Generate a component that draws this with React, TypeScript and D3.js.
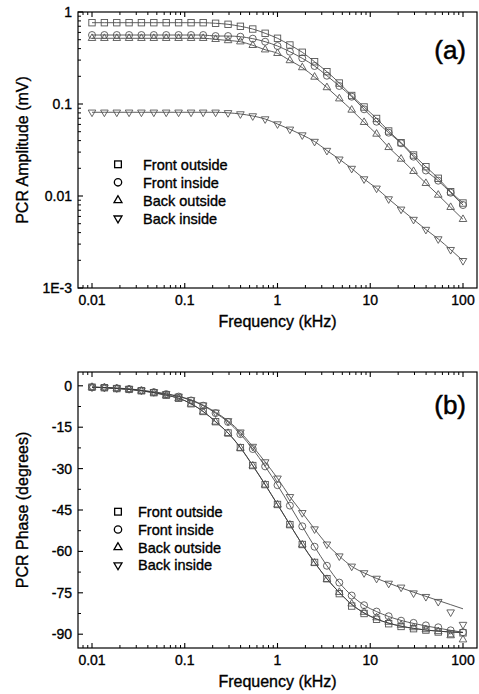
import React from "react";
import * as d3 from "d3";

// ---------- data ----------
const freq = [0.01, 0.0136, 0.0185, 0.0251, 0.0341, 0.0464, 0.0631, 0.0858, 0.117, 0.158, 0.215, 0.293, 0.398, 0.541, 0.736, 1, 1.36, 1.85, 2.51, 3.41, 4.64, 6.31, 8.58, 11.7, 15.8, 21.5, 29.3, 39.8, 54.1, 73.6, 100];

const seriesNames = ["Front outside", "Front inside", "Back outside", "Back inside"];
const seriesSymbols = ["square", "circle", "triUp", "triDown"];

const ampFrontOutside = [0.765, 0.765, 0.765, 0.765, 0.765, 0.765, 0.765, 0.765, 0.765, 0.765, 0.754, 0.735, 0.699, 0.653, 0.587, 0.518, 0.438, 0.365, 0.288, 0.2245, 0.169, 0.1237, 0.0928, 0.0696, 0.0509, 0.038, 0.0279, 0.0208, 0.01558, 0.01113, 0.00839];
const ampFrontInside = [0.562, 0.562, 0.562, 0.562, 0.562, 0.562, 0.562, 0.562, 0.562, 0.562, 0.548, 0.548, 0.539, 0.513, 0.4755, 0.427, 0.37, 0.314, 0.2588, 0.203, 0.157, 0.12, 0.0876, 0.0642, 0.0488, 0.0374, 0.02675, 0.01893, 0.01467, 0.01086, 0.00798];
const ampBackOutside = [0.518, 0.518, 0.518, 0.518, 0.518, 0.518, 0.518, 0.518, 0.518, 0.518, 0.505, 0.49, 0.4755, 0.4345, 0.389, 0.3557, 0.297, 0.249, 0.1966, 0.1511, 0.1142, 0.0861, 0.0633, 0.0472, 0.0338, 0.02525, 0.01856, 0.01374, 0.01025, 0.00754, 0.00558];
const ampBackInside = [0.0813, 0.0813, 0.0813, 0.0813, 0.0813, 0.0813, 0.0813, 0.0813, 0.0813, 0.0813, 0.0813, 0.0802, 0.0779, 0.0741, 0.0687, 0.0606, 0.0531, 0.046, 0.0391, 0.0312, 0.0251, 0.0199, 0.0153, 0.01213, 0.00928, 0.00717, 0.00555, 0.00432, 0.00341, 0.00261, 0.00198];

const phFrontOutside = [-0.5, -0.7, -1.0, -1.3, -1.8, -2.5, -3.4, -4.5, -6.5, -9.3, -13.0, -17.1, -22.4, -28.9, -35.8, -43.0, -50.3, -57.5, -64.0, -69.9, -75.3, -79.8, -82.5, -84.6, -86.2, -87.2, -88.0, -88.5, -89.2, -89.8, -89.5];
const phFrontInside = [-0.5, -0.6, -0.9, -1.2, -1.7, -2.3, -3.0, -3.9, -5.3, -7.2, -9.9, -13.1, -17.5, -22.9, -29.2, -36.0, -43.4, -50.9, -58.3, -65.2, -71.3, -76.0, -79.5, -81.8, -83.5, -85.1, -85.9, -86.8, -87.5, -88.6, -89.3];
const phBackOutside = [-0.5, -0.7, -1.0, -1.3, -1.9, -2.6, -3.5, -4.6, -6.6, -9.4, -13.1, -17.2, -22.6, -29.0, -35.9, -43.1, -50.4, -57.6, -64.2, -70.1, -74.8, -79.0, -82.0, -84.0, -85.6, -86.7, -87.6, -88.3, -89.0, -90.5, -92.0];
const phBackInside = [-0.5, -0.6, -0.8, -1.1, -1.6, -2.2, -2.9, -3.8, -5.1, -7.0, -9.6, -12.7, -16.8, -22.0, -27.6, -33.5, -40.2, -46.0, -51.9, -57.4, -61.7, -65.4, -67.8, -69.8, -71.6, -73.0, -75.1, -76.4, -78.2, -82.0, -86.5];

// fitted model curves (phase)
const fitPhOutside = [-0.5, -0.7, -1.0, -1.3, -1.8, -2.5, -3.4, -4.5, -6.5, -9.3, -13.0, -17.1, -22.4, -28.9, -35.8, -43.0, -50.3, -57.5, -64.0, -69.9, -74.9, -79.2, -82.3, -84.5, -86.0, -87.1, -87.9, -88.5, -88.9, -89.2, -89.4];
const fitPhFrontInside = [-0.5, -0.6, -0.9, -1.2, -1.7, -2.3, -3.0, -3.9, -5.3, -7.2, -9.9, -13.1, -17.5, -22.9, -29.2, -36.0, -43.4, -50.9, -58.3, -65.2, -71.3, -76.0, -79.5, -81.8, -83.6, -85.0, -86.1, -87.0, -87.8, -88.6, -89.3];
const fitPhBackInside = [-0.5, -0.6, -0.8, -1.1, -1.6, -2.2, -2.9, -3.8, -5.1, -7.0, -9.6, -12.7, -16.8, -22.0, -27.6, -33.5, -40.2, -46.0, -51.9, -57.4, -61.7, -65.4, -67.8, -69.8, -71.5, -73.2, -74.8, -76.3, -77.8, -79.3, -80.8];

const xMajorTicks = [0.01, 0.1, 1, 10, 100];
const xTickLabels = ["0.01", "0.1", "1", "10", "100"];
const ampMajorTicks = [1, 0.1, 0.01, 0.001];
const ampTickLabels = ["1", "0.1", "0.01", "1E-3"];
const phMajorTicks = [0, -15, -30, -45, -60, -75, -90];
const phTickLabels = ["0", "-15", "-30", "-45", "-60", "-75", "-90"];

// ---------- layout ----------
const W = 479;
const H = 694;
const left = 78;
const right = 477;
const FONT = "'Liberation Sans', Arial, Helvetica, sans-serif";
const TS = 0.35; // text stroke to mimic the heavier rendering

const x = d3.scaleLog().domain([Math.pow(10, -2.151), Math.pow(10, 2.151)]).range([left, right]);
const yAmp = d3.scaleLog().domain([0.001, 1]).range([288, 12]);
const yPh = d3.scaleLinear().domain([-95, 5]).range([648, 372]);

function logMinors(domain: number[]) {
  const out: number[] = [];
  const lo = Math.min(domain[0], domain[1]);
  const hi = Math.max(domain[0], domain[1]);
  for (let e = -4; e <= 3; e++) {
    for (let m = 2; m <= 9; m++) {
      const v = m * Math.pow(10, e);
      if (v > lo && v < hi) out.push(v);
    }
  }
  return out;
}

function Marker({ kind, cx, cy, stroke, sw, s = 1 }: any) {
  if (kind === "square") {
    const a = 6.4 * s;
    return <rect x={cx - a / 2} y={cy - a / 2} width={a} height={a} fill="none" stroke={stroke} strokeWidth={sw} />;
  }
  if (kind === "circle") {
    return <circle cx={cx} cy={cy} r={3.5 * s} fill="none" stroke={stroke} strokeWidth={sw} />;
  }
  const w = 7.6 * s;
  const h = 6.6 * s;
  if (kind === "triUp") {
    const p = `M${cx},${cy - (2 * h) / 3}L${cx - w / 2},${cy + h / 3}L${cx + w / 2},${cy + h / 3}Z`;
    return <path d={p} fill="none" stroke={stroke} strokeWidth={sw} />;
  }
  const p = `M${cx},${cy + (2 * h) / 3}L${cx - w / 2},${cy - h / 3}L${cx + w / 2},${cy - h / 3}Z`;
  return <path d={p} fill="none" stroke={stroke} strokeWidth={sw} />;
}

function Frame({ yScale, yMajors, yLabels, yMinors, yTitle, xTitleY, panelLabel, labelY }: any) {
  const [yb, yt] = yScale.range();
  const xMinors = logMinors(x.domain());
  const majLen = 5;
  const minLen = 3;
  return (
    <g>
      <rect x={left} y={yt} width={right - left} height={yb - yt} fill="none" stroke="#000" strokeWidth={1.2} />
      {xMajorTicks.map((t, i) => (
        <g key={"xm" + i}>
          <line x1={x(t)} x2={x(t)} y1={yb} y2={yb - majLen} stroke="#000" strokeWidth={1.1} />
          <line x1={x(t)} x2={x(t)} y1={yt} y2={yt + majLen} stroke="#000" strokeWidth={1.1} />
          <text x={x(t)} y={yb + 16.5} textAnchor="middle" fontSize={14} fontFamily={FONT} fill="#000" stroke="#000" strokeWidth={TS}>
            {xTickLabels[i]}
          </text>
        </g>
      ))}
      {xMinors.map((t, i) => (
        <g key={"xn" + i}>
          <line x1={x(t)} x2={x(t)} y1={yb} y2={yb - minLen} stroke="#000" strokeWidth={1} />
          <line x1={x(t)} x2={x(t)} y1={yt} y2={yt + minLen} stroke="#000" strokeWidth={1} />
        </g>
      ))}
      {yMajors.map((t: number, i: number) => (
        <g key={"ym" + i}>
          <line x1={left} x2={left + majLen} y1={yScale(t)} y2={yScale(t)} stroke="#000" strokeWidth={1.1} />
          <text x={72} y={yScale(t)} dy="0.36em" textAnchor="end" fontSize={14} fontFamily={FONT} fill="#000" stroke="#000" strokeWidth={TS}>
            {yLabels[i]}
          </text>
        </g>
      ))}
      {yMinors.map((t: number, i: number) => (
        <line key={"yn" + i} x1={left} x2={left + minLen} y1={yScale(t)} y2={yScale(t)} stroke="#000" strokeWidth={1} />
      ))}
      <text x={(left + right) / 2} y={xTitleY} textAnchor="middle" fontSize={16} fontFamily={FONT} fill="#000" stroke="#000" strokeWidth={TS}>
        Frequency (kHz)
      </text>
      <text
        transform={`translate(28,${(yt + yb) / 2}) rotate(-90)`}
        textAnchor="middle"
        fontSize={16}
        fontFamily={FONT}
        fill="#000"
        stroke="#000"
        strokeWidth={TS}
      >
        {yTitle}
      </text>
      <text x={466} y={labelY} textAnchor="end" fontSize={26} fontFamily={FONT} fill="#000" stroke="#000" strokeWidth={0.5}>
        {panelLabel}
      </text>
    </g>
  );
}

function Legend({ x0, tx, y0, dy }: any) {
  return (
    <g>
      {seriesNames.map((n, i) => (
        <g key={n}>
          <Marker kind={seriesSymbols[i]} cx={x0} cy={y0 + i * dy} stroke="#000" sw={1.3} s={1.05} />
          <text x={tx} y={y0 + i * dy} dy="0.36em" fontSize={14.5} fontFamily={FONT} fill="#000" stroke="#000" strokeWidth={TS}>
            {n}
          </text>
        </g>
      ))}
    </g>
  );
}

export default function App() {
  const ampSeries = [ampFrontOutside, ampFrontInside, ampBackOutside, ampBackInside];
  const phSeries = [phFrontOutside, phFrontInside, phBackOutside, phBackInside];
  const phFits = [fitPhOutside, fitPhFrontInside, fitPhOutside, fitPhBackInside];

  const ampLine = (vals: number[]) =>
    d3
      .line<number>()
      .x((_, i) => x(freq[i]))
      .y((v) => yAmp(v))
      .curve(d3.curveMonotoneX)(vals) || "";
  const phLine = (vals: number[]) =>
    d3
      .line<number>()
      .x((_, i) => x(freq[i]))
      .y((v) => yPh(v))
      .curve(d3.curveMonotoneX)(vals) || "";

  const ampMinors = logMinors(yAmp.domain());
  const phMinors = d3.range(-97.5, 5, 7.5).filter((v) => v > -95 && v < 5 && Math.abs(v % 15) > 1);

  const markStroke = "#555";
  const lineStroke = "#333";

  return (
    <svg width={W} height={H} style={{ display: "block", position: "absolute", left: 0, top: 0 }}>
      <rect width={W} height={H} fill="#fff" />
      {/* Panel (a) */}
      <g>
        {ampSeries.map((s, k) => (
          <path key={"al" + k} d={ampLine(s)} fill="none" stroke={lineStroke} strokeWidth={0.8} />
        ))}
        {ampSeries.map((s, k) =>
          s.map((v, i) => (
            <Marker key={"am" + k + "-" + i} kind={seriesSymbols[k]} cx={x(freq[i])} cy={yAmp(v)} stroke={markStroke} sw={0.9} />
          ))
        )}
        <Frame
          yScale={yAmp}
          yMajors={ampMajorTicks}
          yLabels={ampTickLabels}
          yMinors={ampMinors}
          yTitle="PCR Amplitude (mV)"
          xTitleY={326.5}
          panelLabel="(a)"
          labelY={59}
        />
        <Legend x0={118} tx={143} y0={164.3} dy={18} />
      </g>
      {/* Panel (b) */}
      <g>
        {phFits.map((s, k) => (
          <path key={"pl" + k} d={phLine(s)} fill="none" stroke={lineStroke} strokeWidth={0.8} />
        ))}
        {phSeries.map((s, k) =>
          s.map((v, i) => (
            <Marker key={"pm" + k + "-" + i} kind={seriesSymbols[k]} cx={x(freq[i])} cy={yPh(v)} stroke={markStroke} sw={0.9} />
          ))
        )}
        <Frame
          yScale={yPh}
          yMajors={phMajorTicks}
          yLabels={phTickLabels}
          yMinors={phMinors}
          yTitle="PCR Phase (degrees)"
          xTitleY={686.5}
          panelLabel="(b)"
          labelY={414}
        />
        <Legend x0={118} tx={138} y0={511.7} dy={17.8} />
      </g>
    </svg>
  );
}
